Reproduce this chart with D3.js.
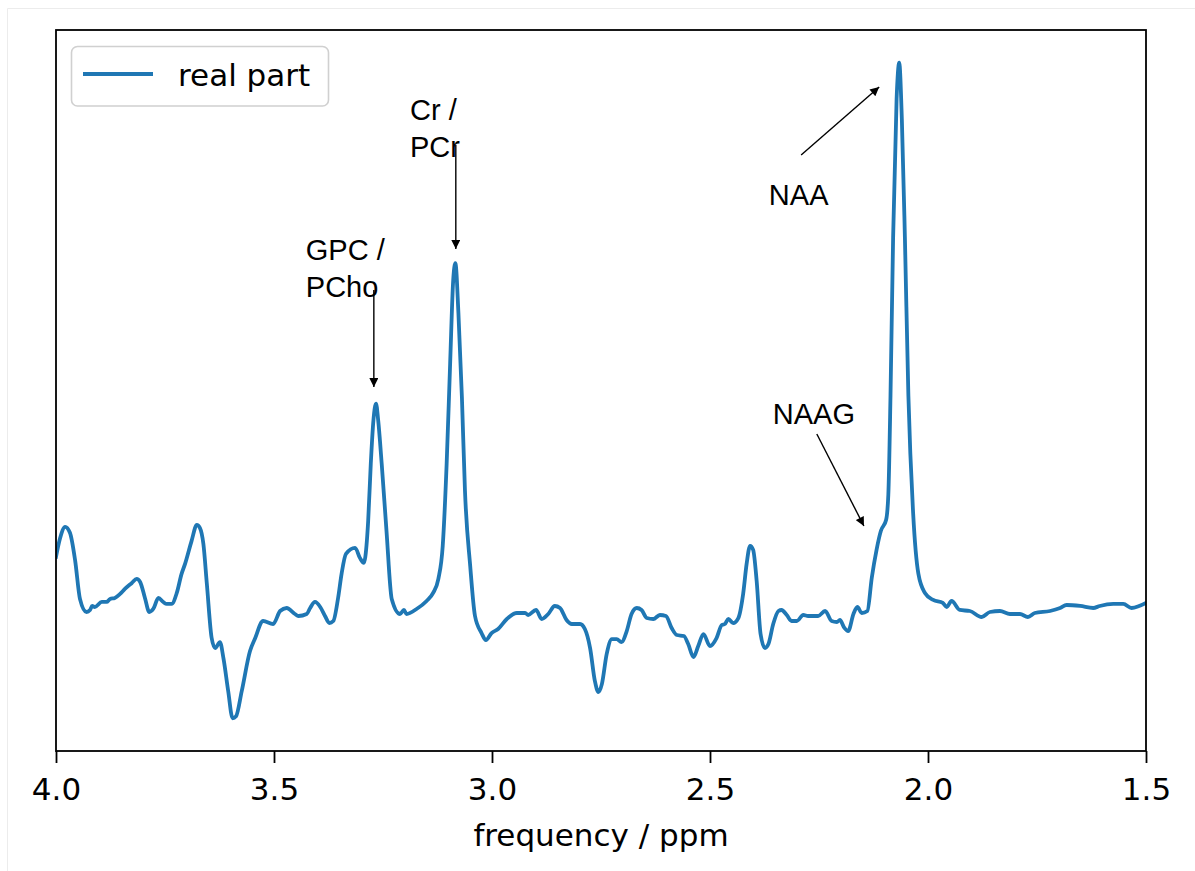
<!DOCTYPE html>
<html>
<head>
<meta charset="utf-8">
<script src="https://cdn.jsdelivr.net/npm/d3@7"></script>
<style>
  html, body { margin: 0; padding: 0; background: #fff; }
  svg { display: block; }
</style>
</head>
<body>
<svg id="chart" width="1195" height="871"></svg>
<script>
// ---- data ----
const ppm = [4.000,3.991,3.979,3.968,3.956,3.945,3.930,3.922,3.917,3.911,3.895,3.884,3.876,3.865,3.853,3.842,3.826,3.815,3.807,3.796,
3.786,3.777,3.765,3.754,3.746,3.735,3.723,3.712,3.704,3.689,3.677,3.670,3.662,3.654,3.643,3.635,3.624,3.616,3.605,3.595,
3.587,3.574,3.555,3.544,3.525,3.502,3.486,3.471,3.452,3.444,3.425,3.417,3.406,3.394,3.383,3.373,3.364,3.353,3.345,3.335,
3.314,3.303,3.294,3.287,3.284,3.278,3.272,3.266,3.261,3.253,3.242,3.230,3.211,3.202,3.196,3.173,3.150,3.135,3.123,3.113,
3.104,3.096,3.089,3.084,3.077,3.069,3.062,3.050,3.039,3.024,3.014,3.001,2.986,2.966,2.943,2.924,2.917,2.899,2.886,2.871,
2.856,2.844,2.829,2.817,2.798,2.787,2.775,2.764,2.756,2.748,2.737,2.725,2.714,2.703,2.691,2.680,2.668,2.657,2.645,2.630,
2.615,2.601,2.588,2.576,2.560,2.550,2.538,2.527,2.515,2.500,2.485,2.473,2.466,2.458,2.447,2.435,2.424,2.416,2.408,2.401,
2.393,2.384,2.374,2.366,2.355,2.343,2.336,2.324,2.313,2.301,2.286,2.275,2.263,2.252,2.236,2.221,2.209,2.202,2.193,2.183,
2.171,2.162,2.152,2.139,2.129,2.118,2.108,2.096,2.091,2.086,2.080,2.072,2.066,2.060,2.053,2.045,2.034,2.022,2.007,1.988,
1.966,1.957,1.946,1.927,1.904,1.877,1.858,1.835,1.812,1.789,1.771,1.755,1.720,1.697,1.682,1.651,1.621,1.606,1.575,1.552,
1.533,1.500];
const realPart = [0.56,0.74,0.86,0.80,0.52,0.14,0.01,0.03,0.07,0.06,0.11,0.11,0.14,0.15,0.19,0.24,0.30,0.34,0.31,0.15,
0.01,0.04,0.15,0.11,0.09,0.09,0.20,0.39,0.49,0.72,0.88,0.85,0.69,0.29,-0.25,-0.35,-0.29,-0.45,-0.78,-1.05,
-1.03,-0.78,-0.38,-0.26,-0.08,-0.11,0.02,0.05,-0.01,-0.03,-0.01,0.05,0.11,0.06,-0.03,-0.10,-0.08,0.15,0.39,0.59,
0.65,0.55,0.50,0.72,0.92,1.49,1.92,2.09,1.92,1.49,0.82,0.14,-0.01,0.03,-0.01,0.04,0.12,0.20,0.34,0.67,
1.49,2.49,3.32,3.49,2.99,2.15,1.22,0.47,-0.03,-0.20,-0.27,-0.20,-0.16,-0.06,0.00,0.00,-0.02,0.03,-0.06,-0.01,
0.07,0.05,-0.07,-0.11,-0.11,-0.16,-0.35,-0.68,-0.79,-0.71,-0.41,-0.26,-0.26,-0.29,-0.18,-0.01,0.05,0.03,-0.05,-0.06,
-0.02,-0.03,-0.15,-0.22,-0.23,-0.31,-0.44,-0.33,-0.21,-0.33,-0.25,-0.12,-0.11,-0.06,-0.10,-0.05,0.19,0.49,0.67,0.63,
0.32,-0.21,-0.35,-0.31,-0.11,0.02,0.03,-0.02,-0.08,-0.08,-0.02,-0.03,-0.03,-0.03,0.02,-0.08,-0.09,-0.07,-0.14,-0.18,
-0.01,0.06,0.00,0.02,0.35,0.63,0.82,0.93,1.18,2.17,3.75,5.13,5.49,4.93,3.75,2.17,0.99,0.39,0.20,0.13,
0.10,0.06,0.12,0.03,0.02,-0.04,0.01,0.02,-0.01,-0.01,-0.04,0.00,0.02,0.05,0.08,0.07,0.05,0.07,0.09,0.09,
0.05,0.10];

const xTicks = [4.0, 3.5, 3.0, 2.5, 2.0, 1.5];
const xDomain = [4.0, 1.5];
const seriesName = "real part";
const xLabel = "frequency / ppm";

// annotations: text lines, text anchor (ppm, amp), arrow tail and tip (ppm, amp)
const annLabels = [["GPC /", "PCho"], ["Cr /", "PCr"], ["NAA"], ["NAAG"]];
const annText   = [[3.427, 3.522], [3.188, 4.919], [2.365, 4.071], [2.356, 1.886]];
const annTail   = [[3.271, 3.223], [3.083, 4.670], [2.291, 4.570], [2.255, 1.786]];
const annTip    = [[3.271, 2.255], [3.083, 3.632], [2.112, 5.248], [2.147, 0.868]];

// ---- layout ----
const margin = {left: 56, right: 49, top: 30, bottom: 120};
const W = 1195, H = 871;
const svg = d3.select("#chart");

const x = d3.scaleLinear().domain(xDomain).range([margin.left, W - margin.right]);
const ext = d3.extent(realPart);
const pad = (ext[1] - ext[0]) * 0.05;
const y = d3.scaleLinear().domain([ext[0] - pad, ext[1] + pad]).range([H - margin.bottom, margin.top]);

// faint outer figure edge
svg.append("line").attr("x1", 7.5).attr("x2", W).attr("y1", 8.5).attr("y2", 8.5)
  .attr("stroke", "#ececec").attr("stroke-width", 1);
svg.append("line").attr("x1", 7.5).attr("x2", 7.5).attr("y1", 8.5).attr("y2", H)
  .attr("stroke", "#ececec").attr("stroke-width", 1);

const defs = svg.append("defs");
defs.append("clipPath").attr("id", "clip").append("rect")
  .attr("x", margin.left).attr("y", margin.top)
  .attr("width", W - margin.left - margin.right).attr("height", H - margin.top - margin.bottom);
defs.append("marker").attr("id", "head")
  .attr("viewBox", "0 0 10 10").attr("refX", 10).attr("refY", 5)
  .attr("markerUnits", "userSpaceOnUse").attr("markerWidth", 11).attr("markerHeight", 9)
  .attr("orient", "auto")
  .append("path").attr("d", "M0,0 L10,5 L0,10 Z").attr("fill", "#000");

// line
const pts = ppm.map((p, i) => [p, realPart[i]]);
const line = d3.line().x(d => x(d[0])).y(d => y(d[1])).curve(d3.curveMonotoneX);
svg.append("path").datum(pts)
  .attr("clip-path", "url(#clip)")
  .attr("d", line)
  .attr("fill", "none")
  .attr("stroke", "#1f77b4")
  .attr("stroke-width", 3.8)
  .attr("stroke-linejoin", "round")
  .attr("stroke-linecap", "square");

// annotations
const annG = svg.append("g");
annLabels.forEach((lines, i) => {
  annG.append("line")
    .attr("x1", x(annTail[i][0])).attr("y1", y(annTail[i][1]))
    .attr("x2", x(annTip[i][0])).attr("y2", y(annTip[i][1]))
    .attr("stroke", "#000").attr("stroke-width", 1.4)
    .attr("marker-end", "url(#head)");
  const t = annG.append("text")
    .attr("x", x(annText[i][0])).attr("y", y(annText[i][1]))
    .attr("font-family", "'Liberation Sans', Arial, Helvetica, sans-serif")
    .attr("font-size", 29).attr("fill", "#000");
  lines.forEach((s, j) => {
    t.append("tspan").attr("x", x(annText[i][0])).attr("dy", j === 0 ? 0 : 37).text(s);
  });
});

// frame
svg.append("rect")
  .attr("x", margin.left).attr("y", margin.top)
  .attr("width", W - margin.left - margin.right).attr("height", H - margin.top - margin.bottom)
  .attr("fill", "none").attr("stroke", "#000").attr("stroke-width", 1.8);

// x axis
const xAxis = d3.axisBottom(x).tickValues(xTicks).tickFormat(d3.format(".1f"))
  .tickSize(12).tickPadding(15).tickSizeOuter(0);
const gx = svg.append("g").attr("transform", `translate(0,${H - margin.bottom})`).call(xAxis);
gx.select(".domain").remove();
gx.selectAll(".tick line").attr("stroke", "#000").attr("stroke-width", 1.8);
gx.selectAll(".tick text").attr("fill", "#000")
  .attr("font-family", "'DejaVu Sans', sans-serif").attr("font-size", 31);

svg.append("text")
  .attr("x", (margin.left + W - margin.right) / 2).attr("y", 846)
  .attr("text-anchor", "middle")
  .attr("font-family", "'DejaVu Sans', sans-serif").attr("font-size", 31)
  .attr("fill", "#000").text(xLabel);

// legend
const lg = svg.append("g");
lg.append("rect").attr("x", 71.5).attr("y", 46.5).attr("width", 257).attr("height", 59.5)
  .attr("rx", 6).attr("fill", "#fff").attr("fill-opacity", 0.8)
  .attr("stroke", "#d0d0d0").attr("stroke-width", 1.6);
lg.append("line").attr("x1", 83).attr("x2", 153).attr("y1", 74).attr("y2", 74)
  .attr("stroke", "#1f77b4").attr("stroke-width", 3.8);
lg.append("text").attr("x", 178).attr("y", 86)
  .attr("font-family", "'DejaVu Sans', sans-serif").attr("font-size", 31)
  .attr("fill", "#000").text(seriesName);
</script>
</body>
</html>
